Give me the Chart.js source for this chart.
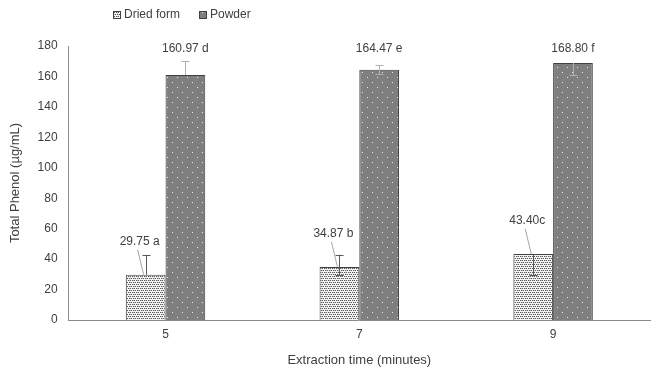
<!DOCTYPE html>
<html>
<head>
<meta charset="utf-8">
<script src="https://cdn.jsdelivr.net/npm/chart.js@4"></script>
<style>
  html, body { margin: 0; padding: 0; background: #fff; }
  #wrap { width: 652px; height: 373px; }
</style>
</head>
<body>
<div id="wrap"><canvas id="c" width="652" height="373"></canvas></div>
<script>
// data
const times = ['5', '7', '9'];
const driedForm = [29.75, 34.87, 43.40];
const powder = [160.97, 164.47, 168.80];
const driedLabels = ['29.75 a', '34.87 b', '43.40c'];
const powderLabels = ['160.97 d', '164.47 e', '168.80 f'];
const driedErrPlus = [13, 8, 0];
const driedErrMinus = [0, 5, 14];
const powderErrPlus = [9, 3, 0];
const powderErrMinus = [0, 3, 8];
const yTicks = [0, 20, 40, 60, 80, 100, 120, 140, 160, 180];

const FONT = '"Liberation Sans", Arial, sans-serif';

function makeDriedPattern() {
    const p = document.createElement('canvas');
    p.width = 4; p.height = 4;
    const g = p.getContext('2d');
    g.fillStyle = '#f4f4f4';
    g.fillRect(0, 0, 4, 4);
    g.fillStyle = '#5a5a5a';
    g.fillRect(0, 0, 1, 1);
    g.fillRect(2, 0, 1, 1);
    g.fillRect(1, 2, 1, 1);
    g.fillRect(3, 2, 1, 1);
    g.fillStyle = '#b8b8b8';
    g.fillRect(1, 0, 1, 1);
    g.fillRect(2, 2, 1, 1);
    return g.createPattern(p, 'repeat');
}

function makePowderPattern() {
    const p = document.createElement('canvas');
    p.width = 10; p.height = 10;
    const g = p.getContext('2d');
    g.fillStyle = '#7f7f7f';
    g.fillRect(0, 0, 10, 10);
    g.fillStyle = '#e8e8e8';
    g.fillRect(2, 2, 1, 1);
    g.fillRect(7, 7, 1, 1);
    return g.createPattern(p, 'repeat');
}

const driedFill = makeDriedPattern();
const powderFill = makePowderPattern();

// error bars, value labels with leader lines, and the legend
const extras = {
    id: 'extras',
    afterDatasetsDraw(chart) {
        const ctx = chart.ctx;
        const y = chart.scales.y;
        const sets = [
            { plus: driedErrPlus, minus: driedErrMinus, vals: driedForm, color: '#595959' },
            { plus: powderErrPlus, minus: powderErrMinus, vals: powder, color: '#b0b0b0' }
        ];
        ctx.save();
        ctx.lineWidth = 1;
        sets.forEach((s, di) => {
            ctx.strokeStyle = s.color;
            chart.getDatasetMeta(di).data.forEach((bar, i) => {
                const x = Math.round(bar.x) + 0.5;
                const top = y.getPixelForValue(s.vals[i] + s.plus[i]);
                const bot = y.getPixelForValue(s.vals[i] - s.minus[i]);
                ctx.beginPath();
                ctx.moveTo(x, top);
                ctx.lineTo(x, bot);
                if (s.plus[i] > 0) { ctx.moveTo(x - 4, Math.round(top) + 0.5); ctx.lineTo(x + 4, Math.round(top) + 0.5); }
                if (s.minus[i] > 0) { ctx.moveTo(x - 4, Math.round(bot) + 0.5); ctx.lineTo(x + 4, Math.round(bot) + 0.5); }
                ctx.stroke();
            });
        });

        ctx.font = '12px ' + FONT;
        ctx.fillStyle = '#404040';
        ctx.textAlign = 'center';
        ctx.textBaseline = 'middle';
        // dried form labels sit up-left with a leader line
        chart.getDatasetMeta(0).data.forEach((bar, i) => {
            const lx = bar.x - 6;
            const ly = bar.y - 33;
            ctx.fillText(driedLabels[i], lx, ly);
            ctx.strokeStyle = '#a6a6a6';
            ctx.beginPath();
            ctx.moveTo(lx - 2, ly + 8);
            ctx.lineTo(bar.x - 2, bar.y);
            ctx.stroke();
        });
        chart.getDatasetMeta(1).data.forEach((bar, i) => {
            ctx.fillText(powderLabels[i], bar.x, y.getPixelForValue(178));
        });

        // legend
        const items = [
            { text: 'Dried form', fill: driedFill, x: 113 },
            { text: 'Powder', fill: powderFill, x: 199 }
        ];
        ctx.textAlign = 'left';
        items.forEach(it => {
            ctx.fillStyle = it.fill;
            ctx.fillRect(it.x, 11, 8, 8);
            ctx.strokeStyle = '#404040';
            ctx.strokeRect(it.x + 0.5, 11.5, 7, 7);
            ctx.fillStyle = '#404040';
            ctx.fillText(it.text, it.x + 11, 15);
        });
        ctx.restore();
    }
};

new Chart(document.getElementById('c'), {
    type: 'bar',
    data: {
        labels: times,
        datasets: [
            { label: 'Dried form', data: driedForm, backgroundColor: driedFill, borderColor: '#404040', borderWidth: 1 },
            { label: 'Powder', data: powder, backgroundColor: powderFill, borderColor: '#404040', borderWidth: 1 }
        ]
    },
    options: {
        responsive: false,
        animation: false,
        layout: { padding: { top: 46, right: 2, left: 4, bottom: 5 } },
        plugins: {
            legend: { display: false },
            tooltip: { enabled: false }
        },
        datasets: { bar: { categoryPercentage: 0.41, barPercentage: 1.0 } },
        scales: {
            x: {
                grid: { display: false, drawTicks: false },
                border: { color: '#8c8c8c' },
                ticks: { color: '#404040', font: { family: FONT, size: 12 }, padding: 7 },
                title: { display: true, text: 'Extraction time (minutes)', color: '#404040', font: { family: FONT, size: 13 }, padding: { top: 4, bottom: 0 } }
            },
            y: {
                min: 0, max: 180,
                afterBuildTicks(axis) { axis.ticks = yTicks.map(v => ({ value: v })); },
                grid: { display: false, drawOnChartArea: false, drawTicks: true, tickLength: 5, tickColor: '#8c8c8c' },
                border: { color: '#8c8c8c' },
                ticks: { color: '#404040', font: { family: FONT, size: 12 }, padding: 6 },
                title: { display: true, text: 'Total Phenol (µg/mL)', color: '#404040', font: { family: FONT, size: 13 }, padding: { bottom: 8 } }
            }
        }
    },
    plugins: [extras]
});
</script>
</body>
</html>
